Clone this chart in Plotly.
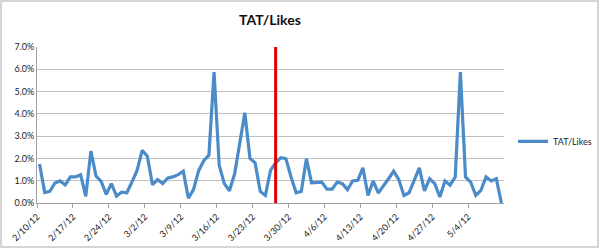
import pandas as pd
import plotly.graph_objects as go

start_date = "2012-02-10"
tat_likes_pct = [
    1.75, 0.47, 0.52, 0.90, 0.99, 0.81, 1.17, 1.17, 1.27, 0.30,
    2.33, 1.21, 0.97, 0.39, 0.87, 0.31, 0.49, 0.46, 0.94, 1.46,
    2.36, 2.10, 0.82, 1.05, 0.87, 1.12, 1.17, 1.27, 1.43, 0.22,
    0.60, 1.45, 1.90, 2.15, 5.87, 1.70, 0.87, 0.55, 1.30, 2.60,
    4.05, 2.00, 1.80, 0.52, 0.34, 1.46, 1.80, 2.03, 1.99, 1.17,
    0.46, 0.52, 1.99, 0.91, 0.94, 0.94, 0.62, 0.62, 0.94, 0.87,
    0.60, 0.99, 1.02, 1.58, 0.34, 0.99, 0.45, 0.75, 1.09, 1.43,
    1.05, 0.34, 0.46, 1.02, 1.58, 0.54, 1.09, 0.87, 0.27, 0.99,
    0.80, 1.17, 5.87, 1.17, 0.94, 0.34, 0.57, 1.17, 0.99, 1.09,
    0.00,
]
tick_dates = ["2012-02-10", "2012-02-17", "2012-02-24", "2012-03-02", "2012-03-09",
              "2012-03-16", "2012-03-23", "2012-03-30", "2012-04-06", "2012-04-13",
              "2012-04-20", "2012-04-27", "2012-05-04"]
tick_labels = ["2/10/12", "2/17/12", "2/24/12", "3/2/12", "3/9/12", "3/16/12", "3/23/12",
               "3/30/12", "4/6/12", "4/13/12", "4/20/12", "4/27/12", "5/4/12"]
y_ticks = [0, 1, 2, 3, 4, 5, 6, 7]
marker_date = "2012-03-27"

dates = pd.date_range(start_date, periods=len(tat_likes_pct), freq="D") + pd.Timedelta(hours=12)
x_end = pd.Timestamp(start_date) + pd.Timedelta(days=len(tat_likes_pct))
marker_x = pd.Timestamp(marker_date) + pd.Timedelta(hours=12)

W, H = 600, 249
L, R, T, B = 37, 96, 47, 46
pw, ph = W - L - R, H - T - B

fig = go.Figure()
fig.add_trace(go.Scatter(
    x=dates, y=tat_likes_pct, mode="lines", name="TAT/Likes",
    line=dict(color="#4a8bc8", width=3.2),
))

fig.add_shape(type="line", xref="x", yref="y", x0=marker_x, x1=marker_x, y0=0, y1=7,
              line=dict(color="#e00000", width=3))

# chart border
fig.add_shape(type="rect", xref="paper", yref="paper",
              x0=(1 - L) / pw, x1=(W - 2 - L) / pw,
              y0=-(B - 2) / ph, y1=(ph + T - 1) / ph,
              line=dict(color="#c8c8c8", width=1.5), layer="below")

fig.update_layout(
    width=W, height=H, autosize=False,
    margin=dict(l=L, r=R, t=T, b=B, autoexpand=False),
    paper_bgcolor="white", plot_bgcolor="white",
    font=dict(family="Lato, Liberation Sans, sans-serif", size=9, color="#1a1a1a"),
    title=dict(text="<b>TAT/Likes</b>", x=(270 / W), xanchor="center", y=1 - 20 / H,
               yanchor="middle", font=dict(size=14, color="#111")),
    showlegend=True,
    legend=dict(x=(513 - L) / pw, y=(202.7 - 141) / ph, xanchor="left", yanchor="middle",
                font=dict(size=9), itemwidth=30, bgcolor="rgba(0,0,0,0)"),
    xaxis=dict(type="date", range=[pd.Timestamp(start_date), x_end],
               tickvals=[pd.Timestamp(d) for d in tick_dates], ticktext=tick_labels,
               tickangle=-45, ticks="outside", ticklen=4, tickcolor="#a0a0a0",
               showline=True, linecolor="#a0a0a0", linewidth=1, showgrid=False,
               zeroline=False, tickfont=dict(size=9, color="#1a1a1a")),
    yaxis=dict(range=[0, 7], tickvals=y_ticks,
               ticktext=[f"{v:.1f}%" for v in y_ticks],
               showgrid=True, gridcolor="#c0c0c0", gridwidth=1.3,
               showline=True, linecolor="#a0a0a0", linewidth=1,
               ticks="", zeroline=False, tickfont=dict(size=9, color="#1a1a1a")),
)

fig.write_html("out.html")
